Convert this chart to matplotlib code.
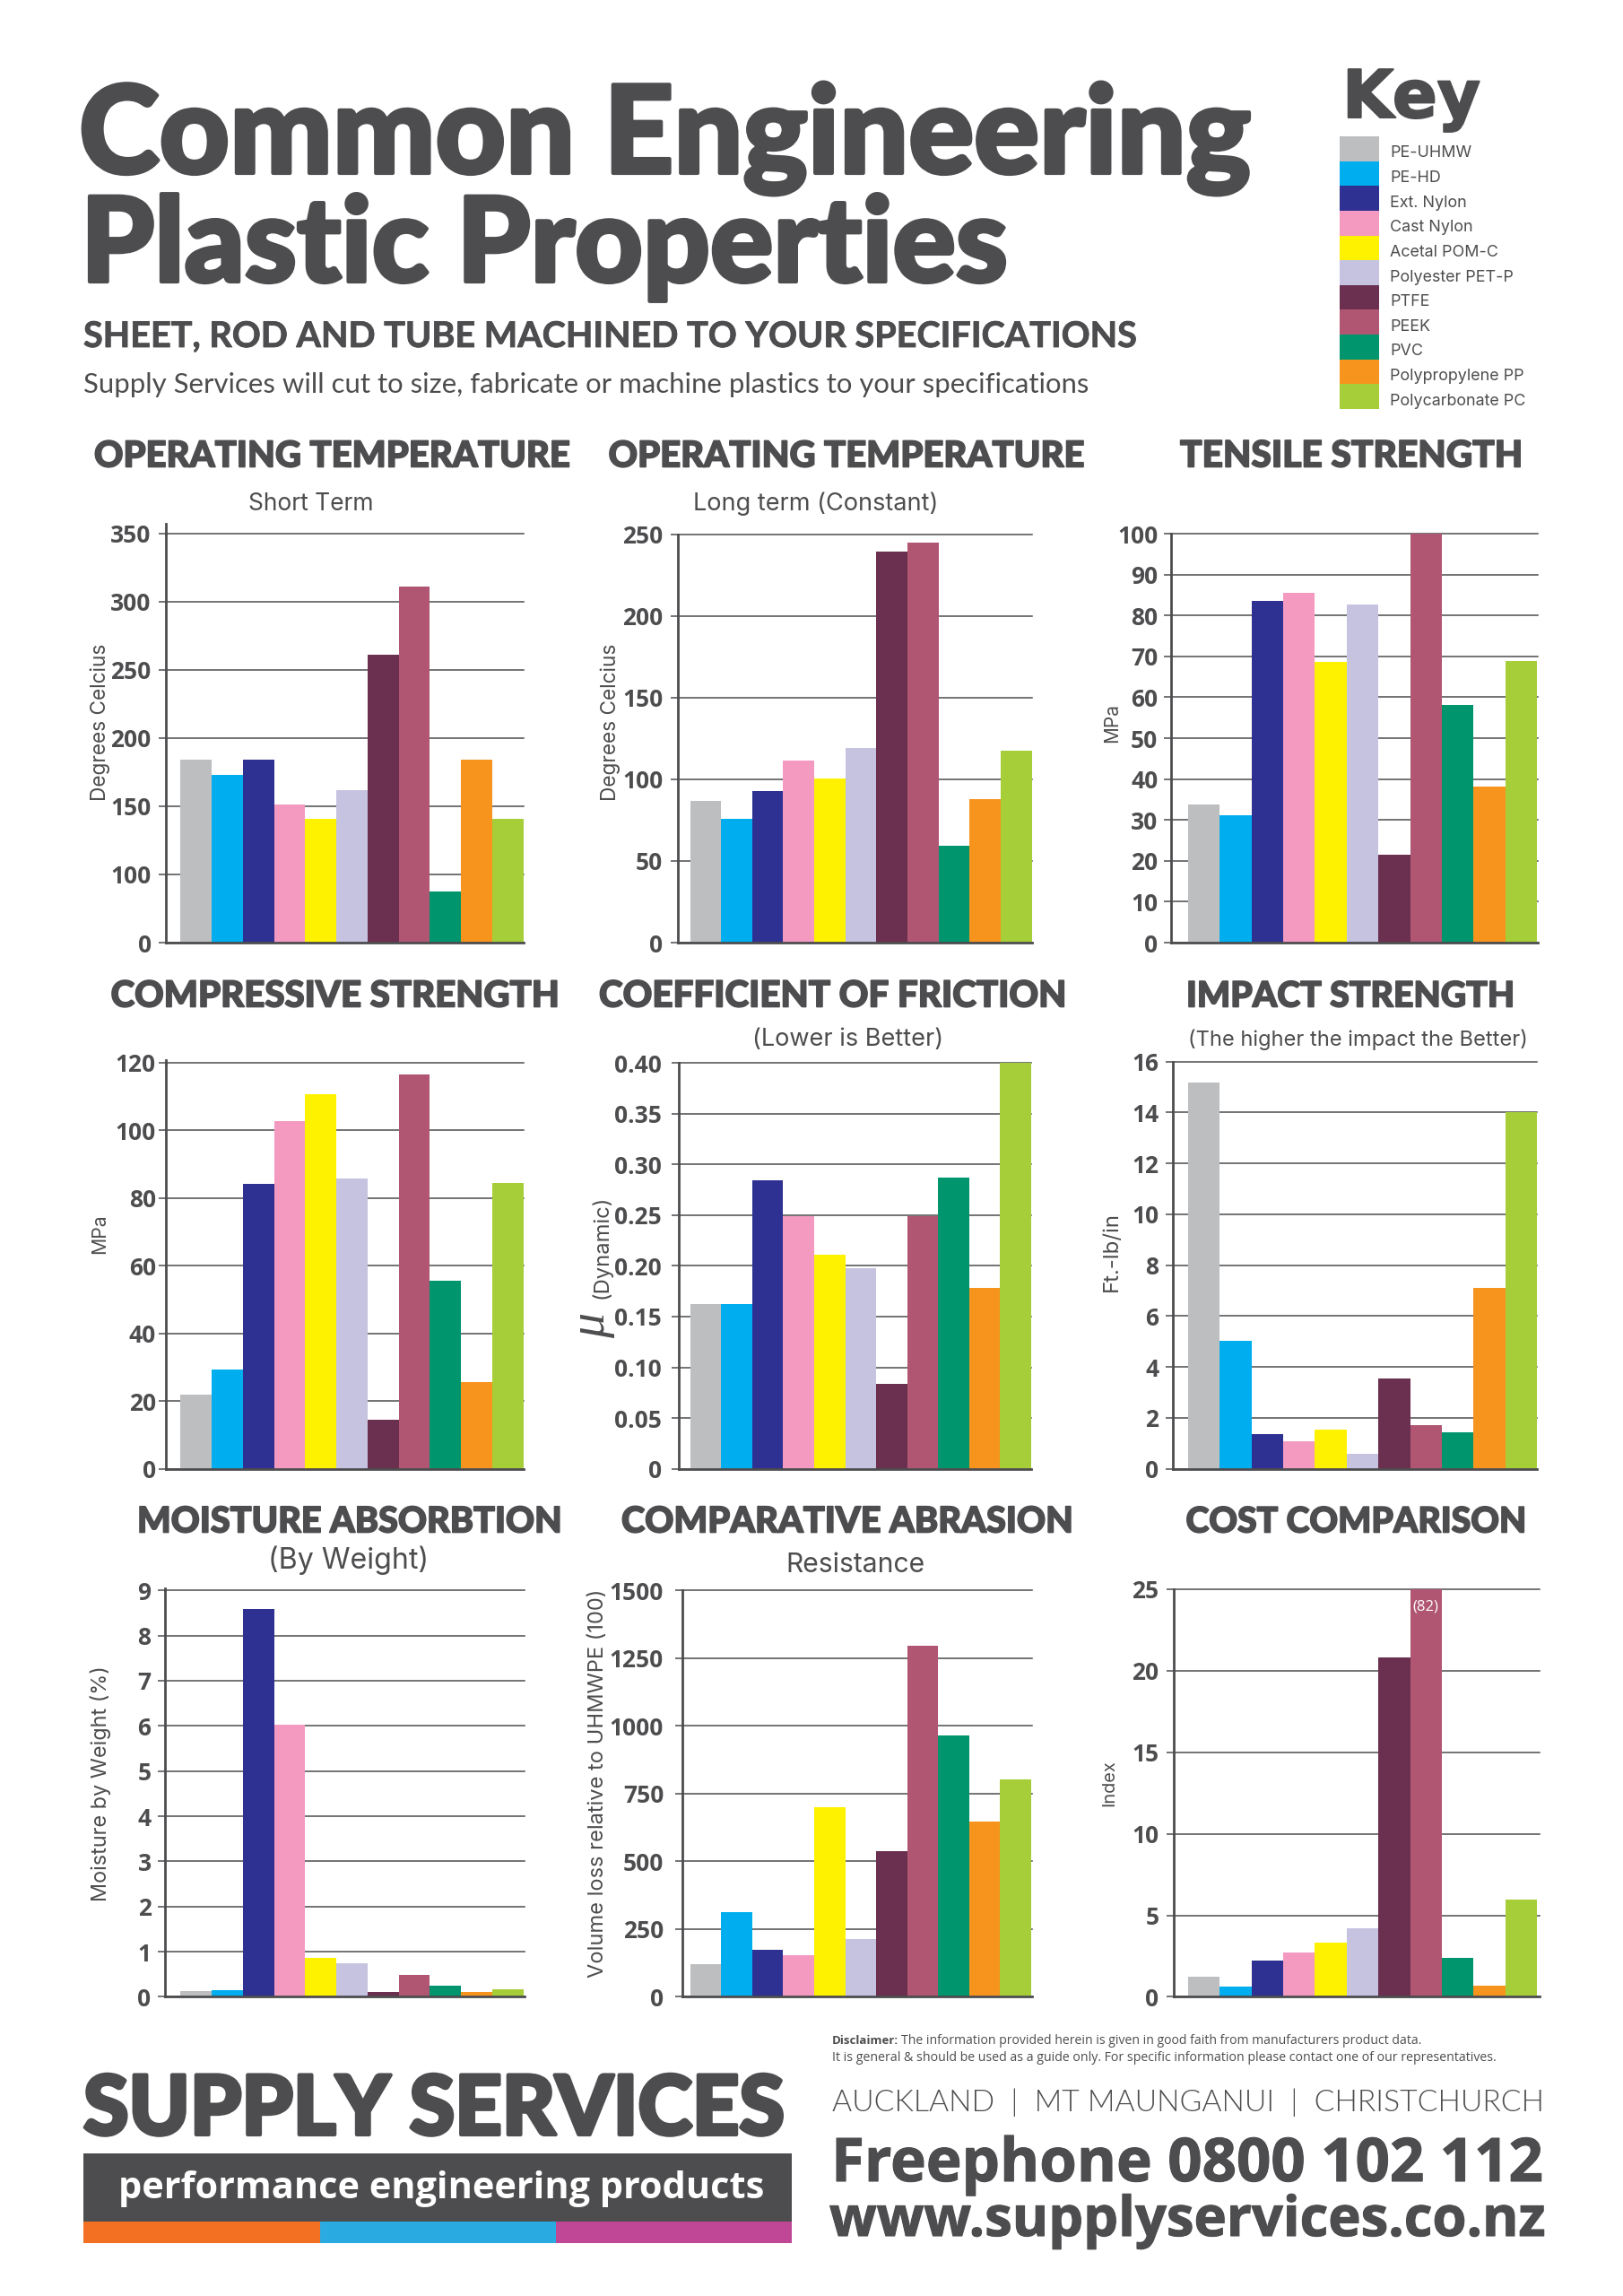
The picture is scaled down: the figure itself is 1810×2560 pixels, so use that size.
# Common engineering plastic properties poster, 3x3 grid of bar charts
import numpy as np
import matplotlib
matplotlib.use("Agg")
import matplotlib.pyplot as plt
import matplotlib.patheffects as pe
from matplotlib.patches import Rectangle

W = 1810
H = 2560
DARK = "#4d4d4f"

materials = ["PE-UHMW", "PE-HD", "Ext. Nylon", "Cast Nylon", "Acetal POM-C", "Polyester PET-P",
             "PTFE", "PEEK", "PVC", "Polypropylene PP", "Polycarbonate PC"]
colors = ["#bcbec0", "#00aeef", "#2e3192", "#f49ac1", "#fff200", "#c5c3e0",
          "#6b2f4f", "#b05673", "#00956d", "#f7941e", "#a6ce39"]

# values, same order as materials
temp_short = [184, 173, 184, 151, 140.5, 162, 261, 311, 75, 184, 140.5]
temp_long = [86.6, 76, 92.7, 111.6, 100.5, 119, 239.7, 245, 59.5, 87.7, 117.5]
tensile = [33.75, 31.2, 83.6, 85.6, 68.6, 82.8, 21.6, 100, 58.1, 38.1, 68.8]
compressive = [22, 29.2, 84, 102.7, 110.6, 85.7, 14.5, 116.3, 55.5, 25.5, 84.5]
friction = [0.1624, 0.1624, 0.284, 0.2487, 0.2108, 0.198, 0.084, 0.2494, 0.2874, 0.178, 0.40]
impact = [15.17, 5.03, 1.35, 1.08, 1.54, 0.58, 3.55, 1.73, 1.44, 7.11, 14.0]
moisture = [0.137, 0.15, 8.59, 6.03, 0.86, 0.745, 0.1, 0.48, 0.24, 0.11, 0.17]
abrasion = [120, 313, 172, 153, 700, 213, 536, 1295, 965, 646, 802]
cost = [1.22, 0.63, 2.2, 2.7, 3.33, 4.2, 20.83, 25, 2.4, 0.67, 5.96]

temp_short_ticks = [0, 100, 150, 200, 250, 300, 350]
temp_long_ticks = [0, 50, 100, 150, 200, 250]
tensile_ticks = [0, 10, 20, 30, 40, 50, 60, 70, 80, 90, 100]
compressive_ticks = [0, 20, 40, 60, 80, 100, 120]
friction_ticks = [0, 0.05, 0.10, 0.15, 0.20, 0.25, 0.30, 0.35, 0.40]
friction_labels = ["0", "0.05", "0.10", "0.15", "0.20", "0.25", "0.30", "0.35", "0.40"]
impact_ticks = [0, 2, 4, 6, 8, 10, 12, 14, 16]
moisture_ticks = [0, 1, 2, 3, 4, 5, 6, 7, 8, 9]
abrasion_ticks = [0, 250, 500, 750, 1000, 1250, 1500]
cost_ticks = [0, 5, 10, 15, 20, 25]

plt.rcParams["font.family"] = "Lato"
fig = plt.figure(figsize=(W / 100, H / 100), dpi=100, facecolor="white")
renderer = fig.canvas.get_renderer()


def put(x, y, s, width, family="Lato", weight="normal", color=DARK, size=20, stroke=0, **kw):
    # left aligned text on a baseline, font size scaled so the width matches
    t = fig.text(x / W, 1 - y / H, s, family=family, weight=weight, color=color,
                 fontsize=size, ha="left", va="baseline", **kw)
    got = t.get_window_extent(renderer).width
    t.set_fontsize(size * width / got)
    if stroke:
        # the installed fonts stop short of the poster's heavy weight
        t.set_path_effects([pe.withStroke(linewidth=stroke, foreground=color)])
    return t


def put_v(x, y, s, length, family="Inter", weight="normal", style="normal"):
    # rotated axis label centred on x, y
    t = fig.text(x / W, 1 - y / H, s, family=family, weight=weight, style=style, color=DARK,
                 fontsize=14, rotation=90, ha="center", va="center")
    got = t.get_window_extent(renderer).height
    t.set_fontsize(14 * length / got)
    return t


def panel(values, ticks, left, right, top, bottom, start, end, pad, up=0, labels=None):
    ax = fig.add_axes([left / W, 1 - bottom / H, (right - left) / W, (bottom - top) / H])
    bw = (end - start) / 11
    ax.set_xlim(-(start - left) / bw, (right - start) / bw)

    # ticks sit at equal distances on the poster even where the labels do not
    idx = np.arange(len(ticks), dtype=float)
    ax.set_yscale("function", functions=(lambda v: np.interp(v, ticks, idx),
                                         lambda p: np.interp(p, idx, ticks)))
    ax.set_ylim(0, ticks[-1])

    ax.bar(np.arange(11), values, width=1, align="edge", color=colors, linewidth=0, zorder=3)
    ax.set_yticks(ticks)
    ax.set_yticklabels(labels if labels else [str(v) for v in ticks], fontsize=19, weight="bold",
                       color=DARK, family="Open Sans")
    ax.set_xticks([])
    ax.tick_params(axis="y", length=5.8, width=1.1, color=DARK, pad=pad)
    ax.grid(axis="y", color=DARK, linewidth=1.1, zorder=1)
    for line in ax.get_ygridlines():
        line.set_clip_on(False)
    ax.spines["top"].set_visible(False)
    ax.spines["right"].set_visible(False)
    ax.spines["left"].set_color(DARK)
    ax.spines["bottom"].set_color(DARK)
    ax.spines["left"].set_linewidth(2)
    ax.spines["bottom"].set_linewidth(2)
    ax.spines["left"].set_zorder(4)
    ax.spines["bottom"].set_zorder(4)
    if up:
        ax.plot([0, 0], [1, 1 + up / (bottom - top)], transform=ax.transAxes, color=DARK,
                linewidth=2, clip_on=False)
    return ax


# row 1
panel(temp_short, temp_short_ticks, 184.6, 583.6, 594.8, 1051, 201.4, 583.6, 5.6, up=11)
panel(temp_long, temp_long_ticks, 755.7, 1151, 595.9, 1051, 769.6, 1150.5, 6)
panel(tensile, tensile_ticks, 1306.4, 1714.6, 595.1, 1051, 1325, 1714, 5)
# row 2
panel(compressive, compressive_ticks, 184.6, 583.6, 1184.5, 1637.6, 201.4, 583.6, 2, up=3)
panel(friction, friction_ticks, 757, 1150, 1185.2, 1637.6, 769.6, 1150, 8, labels=friction_labels)
panel(impact, impact_ticks, 1307.5, 1713.6, 1183.7, 1637.6, 1325, 1714, 5)
# row 3
panel(moisture, moisture_ticks, 183.6, 584.6, 1773.3, 2226.4, 201.4, 583.6, 5, up=2)
panel(abrasion, abrasion_ticks, 760.7, 1151.4, 1773.3, 2226.4, 769.6, 1150, 9)
ax_cost = panel(cost, cost_ticks, 1309, 1716.8, 1772, 2226.4, 1325, 1714, 6)
ax_cost.text(7.5, 23.9, "(82)", color="white", fontsize=12, ha="center", va="center",
             family="Open Sans", zorder=5)

# main heading
put(88, 193, "Common Engineering", 1310, weight="black", stroke=3)
put(90, 314, "Plastic Properties", 1035, weight="black", stroke=3)
put(93, 387, "SHEET, ROD AND TUBE MACHINED TO YOUR SPECIFICATIONS", 1175, weight="bold", stroke=0.6)
put(93, 438, "Supply Services will cut to size, fabricate or machine plastics to your specifications", 1125)

# key
put(1497, 131, "Key", 154, family="DejaVu Sans", weight="bold", stroke=1.5)
row_h = (456 - 152) / len(materials)
for i, (name, c) in enumerate(zip(materials, colors)):
    y = 152 + i * row_h
    fig.add_artist(Rectangle((1494 / W, 1 - (y + row_h) / H), 44 / W, row_h / H,
                             transform=fig.transFigure, facecolor=c, edgecolor="none"))
    fig.text(1550 / W, 1 - (y + row_h / 2 + 5) / H, name, family="Inter", color=DARK, fontsize=12.9,
             ha="left", va="center")

# panel headings
put(105, 520.5, "OPERATING TEMPERATURE", 530, weight="black", stroke=1.2)
put(678.6, 520.5, "OPERATING TEMPERATURE", 530, weight="black", stroke=1.2)
put(1316, 520.5, "TENSILE STRENGTH", 382, weight="black", stroke=1.2)
put(123.6, 1122.5, "COMPRESSIVE STRENGTH", 500, weight="black", stroke=1.2)
put(668, 1122.5, "COEFFICIENT OF FRICTION", 522, weight="black", stroke=1.2)
put(1323, 1122.5, "IMPACT STRENGTH", 366, weight="black", stroke=1.2)
put(153, 1708.5, "MOISTURE ABSORBTION", 474, weight="black", stroke=1.2)
put(693, 1708.5, "COMPARATIVE ABRASION", 504, weight="black", stroke=1.2)
put(1322.5, 1708.5, "COST COMPARISON", 380, weight="black", stroke=1.2)

put(277, 568.7, "Short Term", 140, family="Inter")
put(772.5, 568.7, "Long term (Constant)", 273, family="Inter")
put(839, 1166, "(Lower is Better)", 213, family="Inter")
put(1325, 1166, "(The higher the impact the Better)", 378, family="Inter")
put(298.6, 1748.8, "(By Weight)", 179, family="Inter")
put(876, 1753, "Resistance", 155, family="Inter")

# axis labels
put_v(112, 805, "Degrees Celcius", 176)
put_v(681, 805, "Degrees Celcius", 176)
put_v(1240, 805.6, "MPa", 44)
put_v(111, 1376, "MPa", 45)
put_v(671, 1390, "(Dynamic)", 115)
put_v(660, 1478, "\u03bc", 28, family="Liberation Serif", style="italic")
put_v(1240, 1395, "Ft.-lb/in", 89)
put_v(112, 1989, "Moisture by Weight (%)", 263)
put_v(667, 1988, "Volume loss relative to UHMWPE (100)", 434)
put_v(1237, 1988, "Index", 52)

# footer
put(93, 2380, "SUPPLY SERVICES", 782, weight="black", stroke=3)
fig.add_artist(Rectangle((93 / W, 1 - 2477 / H), 790 / W, 76 / H, transform=fig.transFigure,
                         facecolor=DARK, edgecolor="none"))
stripe_edges = [93, 357, 620, 883]
stripe_colors = ["#f36f21", "#29abe2", "#c04796"]
for i, c in enumerate(stripe_colors):
    fig.add_artist(Rectangle((stripe_edges[i] / W, 1 - 2501 / H), (stripe_edges[i + 1] - stripe_edges[i]) / W,
                             24 / H, transform=fig.transFigure, facecolor=c, edgecolor="none"))
put(132, 2451, "performance engineering products", 720, family="Open Sans", weight="bold", color="white")

put(928, 2279, "Disclaimer:", 74, family="Open Sans", weight="bold")
put(1005, 2279, "The information provided herein is given in good faith from manufacturers product data.", 579,
    family="Open Sans")
put(928, 2298, "It is general & should be used as a guide only. For specific information please contact "
    "one of our representatives.", 736, family="Open Sans")
put(928, 2354, "AUCKLAND  |  MT MAUNGANUI  |  CHRISTCHURCH", 793, weight=300)
put(927, 2432, "Freephone 0800 102 112", 795, family="Open Sans", weight="bold", stroke=0.8)
put(925, 2493, "www.supplyservices.co.nz", 798, family="Open Sans", weight="bold", stroke=0.8)

fig.savefig("out.png", dpi=100)
